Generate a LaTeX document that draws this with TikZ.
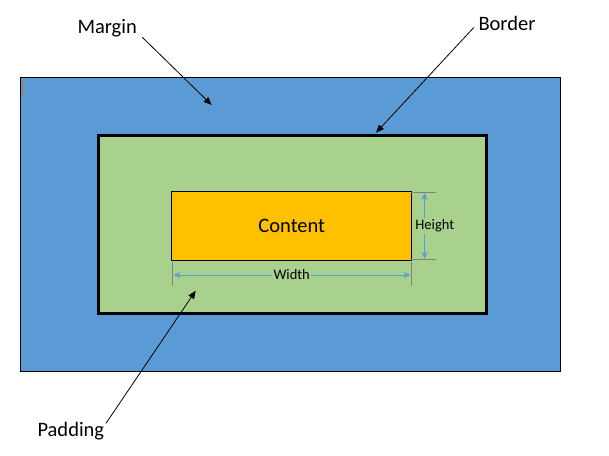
\documentclass[tikz,border=0pt]{standalone}
\usepackage{fontspec}
\setmainfont{Carlito}
\usetikzlibrary{arrows.meta}
\definecolor{marginblue}{HTML}{5B9BD5}
\definecolor{padgreen}{HTML}{A9D18E}
\definecolor{contentorange}{HTML}{FFC000}
\definecolor{extgray}{HTML}{808080}
\definecolor{cursorbrown}{HTML}{C07838}
\tikzset{
  biglabel/.style={font=\fontsize{20.5}{24}\selectfont, inner sep=0pt, anchor=base west},
  smalllabel/.style={font=\fontsize{14.5}{17}\selectfont, inner sep=1.5pt, fill=padgreen},
  callout/.style={draw=black, line width=0.8pt, -{Triangle[length=8pt,width=6.5pt]}},
  dimarrow/.style={draw=marginblue, line width=1pt, {Stealth[length=7pt,width=6pt]}-{Stealth[length=7pt,width=6pt]}},
  extline/.style={draw=extgray, line width=1pt}
}
\begin{document}
\begin{tikzpicture}[x=1pt,y=-1pt]
\useasboundingbox (0,0) rectangle (609,455);
% boxes
\filldraw[fill=marginblue, draw=black, line width=1pt] (20.3,77.3) rectangle (560.5,371);
\draw[cursorbrown, line width=0.8pt] (22.5,80) -- (22.5,96);
\filldraw[fill=padgreen, draw=black, line width=2.8pt] (98.4,135.4) rectangle (486.5,313.3);
\node[draw=black, fill=contentorange, line width=1pt, minimum width=240pt, minimum height=68.7pt, inner sep=0pt, anchor=north west,
      font=\fontsize{20.5}{24}\selectfont] (content) at (171.3,191.3) {Content};
% extension lines
\coordinate (hTopA) at (411.3,192.3);
\coordinate (hTopB) at (436,192.3);
\coordinate (hBotA) at (411.3,259.6);
\coordinate (hBotB) at (436,259.6);
\draw[extline] (hTopA) -- (hTopB);
\draw[extline] (hBotA) -- (hBotB);
\coordinate (wLeftA) at (172.3,261.5);
\coordinate (wLeftB) at (172.3,286);
\coordinate (wRightA) at (411.3,261.5);
\coordinate (wRightB) at (411.3,286);
\draw[extline] (wLeftA) -- (wLeftB);
\draw[extline] (wRightA) -- (wRightB);
% dimension arrows
\coordinate (hA) at (424.5,193);
\coordinate (hB) at (424.5,259);
\draw[dimarrow] (hA) -- (hB);
\coordinate (wA) at (173.5,275);
\coordinate (wB) at (410.5,275);
\draw[dimarrow] (wA) -- (wB);
\node[smalllabel] (height) at (434.8,226.2) {Height};
\node[smalllabel] (width) at (291.7,274.3) {Width};
% callout labels
\node[biglabel] (margin) at (77.3,33.3) {Margin};
\node[biglabel] (border) at (478.3,30) {Border};
\node[biglabel] (padding) at (37.3,436.7) {Padding};
\coordinate (mStart) at (142.3,37.3);
\coordinate (mEnd) at (211.7,105);
\coordinate (bStart) at (474,27.3);
\coordinate (bEnd) at (376,132.7);
\coordinate (pStart) at (106,423.3);
\coordinate (pEnd) at (195.7,290.7);
\draw[callout] (mStart) -- (mEnd);
\draw[callout] (bStart) -- (bEnd);
\draw[callout] (pStart) -- (pEnd);
\end{tikzpicture}
\end{document}
